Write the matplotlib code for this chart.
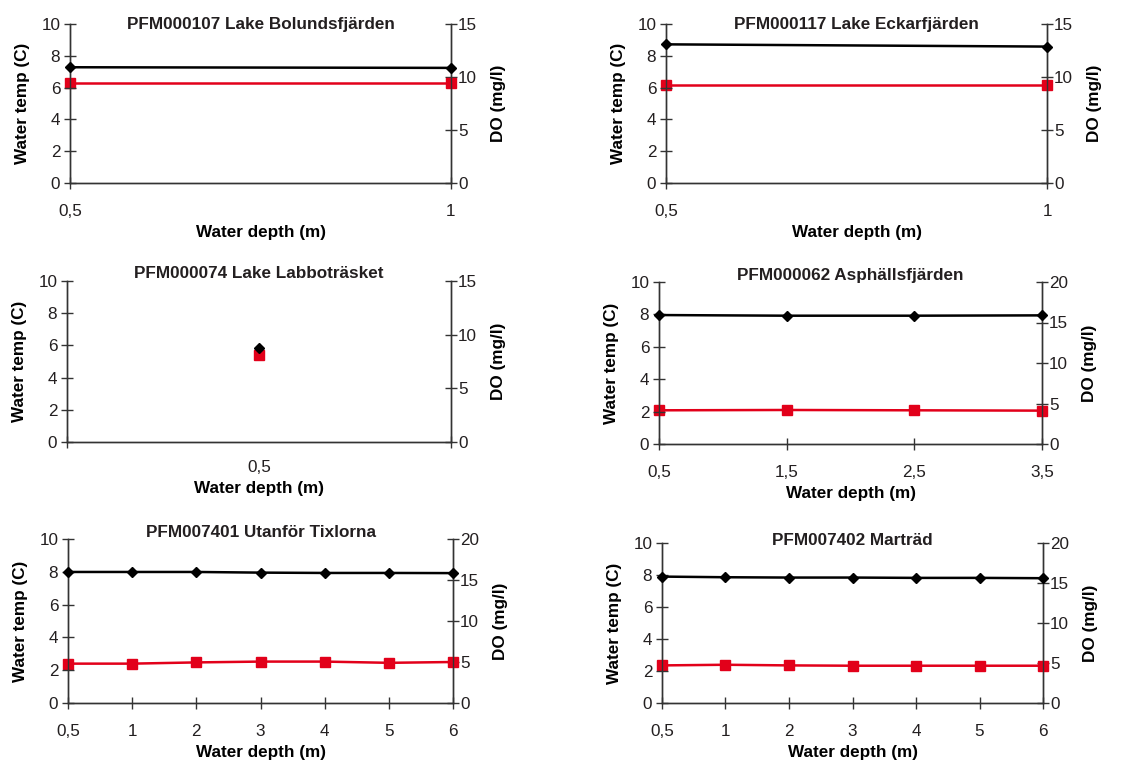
import matplotlib
matplotlib.use("Agg")
import matplotlib.pyplot as plt

plt.rcParams['font.family'] = ['Liberation Sans', 'DejaVu Sans']
plt.rcParams['font.size'] = 12.3
plt.rcParams['text.color'] = '#231f20'

TEMP_COLOR = '#000000'
DO_COLOR = '#e2001a'
AXIS_COLOR = '#333333'
TEXT_COLOR = '#231f20'

# station titles
titles = [
    "PFM000107 Lake Bolundsfjärden",
    "PFM000117 Lake Eckarfjärden",
    "PFM000074 Lake Labboträsket",
    "PFM000062 Asphällsfjärden",
    "PFM007401 Utanför Tixlorna",
    "PFM007402 Marträd",
]

# water depth labels (categories)
depths_1 = ['0,5', '1']
depths_2 = ['0,5', '1']
depths_3 = ['0,5']
depths_4 = ['0,5', '1,5', '2,5', '3,5']
depths_5 = ['0,5', '1', '2', '3', '4', '5', '6']
depths_6 = ['0,5', '1', '2', '3', '4', '5', '6']

# water temperature (C)
temp_1 = [7.28, 7.24]
temp_2 = [8.72, 8.58]
temp_3 = [5.81]
temp_4 = [7.96, 7.92, 7.92, 7.94]
temp_5 = [7.99, 7.99, 7.99, 7.95, 7.93, 7.93, 7.92]
temp_6 = [7.90, 7.86, 7.84, 7.84, 7.82, 7.82, 7.80]

# dissolved oxygen (mg/l)
do_1 = [9.45, 9.45]
do_2 = [9.23, 9.23]
do_3 = [8.15]
do_4 = [4.16, 4.2, 4.16, 4.12]
do_5 = [4.8, 4.8, 4.95, 5.05, 5.05, 4.9, 5.0]
do_6 = [4.7, 4.78, 4.7, 4.66, 4.66, 4.66, 4.66]

do_max = [15, 15, 15, 20, 20, 20]

panels = [
    (depths_1, temp_1, do_1),
    (depths_2, temp_2, do_2),
    (depths_3, temp_3, do_3),
    (depths_4, temp_4, do_4),
    (depths_5, temp_5, do_5),
    (depths_6, temp_6, do_6),
]

# axes boxes in pixels: left, top, right, bottom
boxes = [
    (70, 24, 451, 183),
    (666, 24, 1047, 183),
    (67, 281, 451, 442),
    (659, 282, 1042, 444),
    (68, 539, 453, 703),
    (662, 543, 1043, 703),
]
title_y = [1.0, 1.0, 1.045, 1.04, 1.04, 1.015]

W, H = 1141, 762
fig = plt.figure(figsize=(W / 100, H / 100), dpi=100)

for i, ((depths, temp, do), box) in enumerate(zip(panels, boxes)):
    x0, y0, x1, y1 = box
    ax = fig.add_axes([x0 / W, (H - y1) / H, (x1 - x0) / W, (y1 - y0) / H])
    ax2 = ax.twinx()

    xs = list(range(len(depths)))
    ax.plot(xs, temp, color=TEMP_COLOR, lw=1.8, marker='D', ms=5,
            clip_on=False, zorder=5)
    ax2.plot(xs, do, color=DO_COLOR, lw=1.8, marker='s', ms=6.5,
             clip_on=False, zorder=4)

    ax.set_ylim(0, 10)
    ax.set_yticks(range(0, 11, 2))
    ax2.set_ylim(0, do_max[i])
    ax2.set_yticks(range(0, do_max[i] + 1, 5))

    if len(depths) == 1:
        ax.set_xlim(-0.5, 0.5)
        ax.set_xticks([0])
        ax.set_xticklabels(depths)
        ax.set_xticks([-0.5, 0.5], minor=True)
        ax.tick_params(axis='x', which='major', length=0, pad=13)
        ax.tick_params(axis='x', which='minor', direction='inout', length=8,
                       width=1, color=AXIS_COLOR)
    else:
        ax.set_xlim(0, len(depths) - 1)
        ax.set_xticks(xs)
        ax.set_xticklabels(depths)
        ax.tick_params(axis='x', direction='inout', length=8, width=1,
                       color=AXIS_COLOR, pad=11)

    ax.tick_params(axis='y', direction='inout', length=8, width=1,
                   color=AXIS_COLOR, pad=3, labelcolor=TEXT_COLOR)
    ax.tick_params(axis='x', labelcolor=TEXT_COLOR)
    ax2.tick_params(axis='y', direction='inout', length=8, width=1,
                    color=AXIS_COLOR, pad=1, labelcolor=TEXT_COLOR)

    for a in (ax, ax2):
        a.spines['top'].set_visible(False)
        for s in ('left', 'right', 'bottom'):
            a.spines[s].set_color(AXIS_COLOR)
            a.spines[s].set_linewidth(1)
    ax.set_zorder(ax2.get_zorder() + 1)
    ax.patch.set_visible(False)

    ax.set_xlabel("Water depth (m)", fontweight='bold', labelpad=4.5)
    ax.set_ylabel("Water temp (C)", fontweight='bold', labelpad=8)
    ax2.set_ylabel("DO (mg/l)", fontweight='bold', labelpad=10)
    ax.text(0.5, title_y[i], titles[i], transform=ax.transAxes, ha='center',
            va='center', fontweight='bold')

fig.savefig("out.png", dpi=100)
